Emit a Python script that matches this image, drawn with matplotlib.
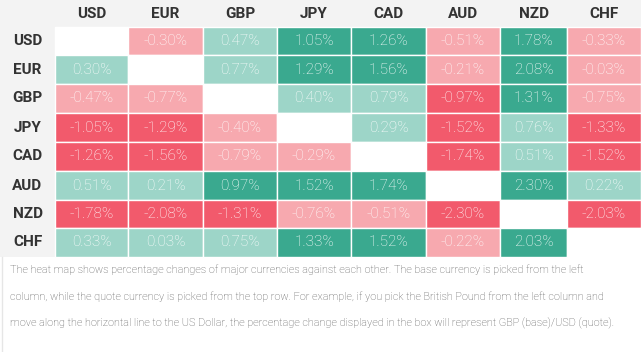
import matplotlib.pyplot as plt
from matplotlib.patches import Rectangle

currencies = ["USD", "EUR", "GBP", "JPY", "CAD", "AUD", "NZD", "CHF"]

# rows = base currency, columns = quote currency; None on the diagonal
changes = [
    [None, -0.30, 0.47, 1.05, 1.26, -0.51, 1.78, -0.33],
    [0.30, None, 0.77, 1.29, 1.56, -0.21, 2.08, -0.03],
    [-0.47, -0.77, None, 0.40, 0.79, -0.97, 1.31, -0.75],
    [-1.05, -1.29, -0.40, None, 0.29, -1.52, 0.76, -1.33],
    [-1.26, -1.56, -0.79, -0.29, None, -1.74, 0.51, -1.52],
    [0.51, 0.21, 0.97, 1.52, 1.74, None, 2.30, 0.22],
    [-1.78, -2.08, -1.31, -0.76, -0.51, -2.30, None, -2.03],
    [0.33, 0.03, 0.75, 1.33, 1.52, -0.22, 2.03, None],
]

footer_lines = [
    "The heat map shows percentage changes of major currencies against each other. The base currency is picked from the left",
    "column, while the quote currency is picked from the top row. For example, if you pick the British Pound from the left column and",
    "move along the horizontal line to the US Dollar, the percentage change displayed in the box will represent GBP (base)/USD (quote).",
]

W, H = 641, 352
col_edges = [55, 128, 203, 277, 351, 426, 500, 567, 641]
row_edges = [27, 55, 84, 113, 142, 171, 200, 228, 257]

DARK_GREEN = "#3aa98f"
LIGHT_GREEN = "#9dd5c8"
PINK = "#f7a9af"
RED = "#f25a6c"
HEAD_BG = "#f3f3f3"


def cell_colour(v):
    if v is None:
        return "white"
    if v >= 0:
        return DARK_GREEN if v >= 0.8 else LIGHT_GREEN
    return RED if v <= -0.8 else PINK


plt.rcParams["font.family"] = ["Roboto", "DejaVu Sans"]

fig = plt.figure(figsize=(W / 100, H / 100), dpi=100)
ax = fig.add_axes([0, 0, 1, 1])
ax.set_xlim(0, W)
ax.set_ylim(H, 0)
ax.axis("off")

# grey header row and label column
ax.add_patch(Rectangle((0, 0), W, row_edges[0], color=HEAD_BG, lw=0))
ax.add_patch(Rectangle((0, 0), col_edges[0], row_edges[-1], color=HEAD_BG, lw=0))

for j, name in enumerate(currencies):
    cx = (col_edges[j] + col_edges[j + 1]) / 2
    ax.text(cx, row_edges[0] / 2, name, ha="center", va="center",
            fontsize=11, fontweight="bold", color="#333333")
    cy = (row_edges[j] + row_edges[j + 1]) / 2
    ax.text(col_edges[0] / 2, cy, name, ha="center", va="center",
            fontsize=11, fontweight="bold", color="#333333")

for i, row in enumerate(changes):
    for j, v in enumerate(row):
        x0, x1 = col_edges[j], col_edges[j + 1]
        y0, y1 = row_edges[i], row_edges[i + 1]
        ax.add_patch(Rectangle((x0, y0), x1 - x0, y1 - y0,
                               facecolor=cell_colour(v), edgecolor="white", lw=1))
        if v is not None:
            ax.text((x0 + x1) / 2, (y0 + y1) / 2, f"{v:.2f}%", ha="center",
                    va="center", fontsize=11, color="white", fontweight="light")

ax.plot([2, 2], [row_edges[-1], H], color="#e6e6e6", lw=1)

for k, line in enumerate(footer_lines):
    ax.text(10, 270 + k * 26.5, line, ha="left", va="center",
            fontsize=7.85, color="#555555", fontweight="light")

fig.savefig("out.png", dpi=100)
